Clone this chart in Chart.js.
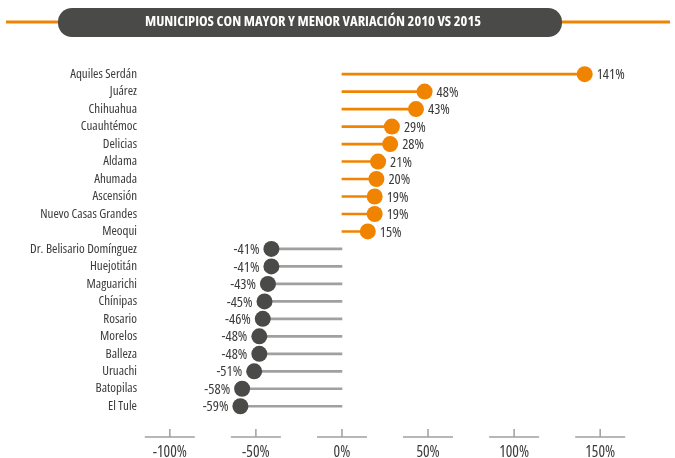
<!DOCTYPE html>
<html>
<head>
<meta charset="utf-8">
<script src="https://cdn.jsdelivr.net/npm/chart.js@4"></script>
<style>
  html, body { margin: 0; padding: 0; background: #fff; }
  #wrap { width: 675px; height: 458px; }
</style>
</head>
<body>
<div id="wrap"><canvas id="myChart" width="675" height="458"></canvas></div>
<script>
// datos
var municipios = ['Aquiles Serdán', 'Juárez', 'Chihuahua', 'Cuauhtémoc', 'Delicias', 'Aldama', 'Ahumada',
  'Ascensión', 'Nuevo Casas Grandes', 'Meoqui', 'Dr. Belisario Domínguez', 'Huejotitán', 'Maguarichi',
  'Chínipas', 'Rosario', 'Morelos', 'Balleza', 'Uruachi', 'Batopilas', 'El Tule'];
var variacion = [141, 48, 43, 29, 28, 21, 20, 19, 19, 15, -41, -41, -43, -45, -46, -48, -48, -51, -58, -59];
var ticksX = [-100, -50, 0, 50, 100, 150];
var titulo = 'MUNICIPIOS CON MAYOR Y MENOR VARIACIÓN 2010 VS 2015';

var naranja = '#F08400';
var gris = '#4A4A48';
var grisLinea = '#A0A0A0';
var texto = '#3a3a3a';
var fuente = "'Open Sans', sans-serif";

var colores = variacion.map(v => v >= 0 ? naranja : gris);
var coloresLinea = variacion.map(v => v >= 0 ? naranja : grisLinea);

// cabecera: linea naranja y caja redondeada detras del titulo
var cabecera = {
  id: 'cabecera',
  beforeDraw: function (chart) {
    var c = chart.ctx;
    c.save();
    c.strokeStyle = naranja;
    c.lineWidth = 3;
    c.beginPath();
    c.moveTo(6, 22);
    c.lineTo(670, 22);
    c.stroke();
    c.fillStyle = gris;
    c.beginPath();
    c.roundRect(58, 8, 504, 29, 14);
    c.fill();
    c.restore();
  }
};

// etiquetas de porcentaje junto a cada punto
var etiquetas = {
  id: 'etiquetas',
  afterDatasetsDraw: function (chart) {
    var c = chart.ctx;
    var meta = chart.getDatasetMeta(1);
    c.save();
    c.font = 'condensed 14.5px ' + fuente;
    c.fillStyle = texto;
    c.textBaseline = 'middle';
    meta.data.forEach(function (pt, i) {
      var v = variacion[i];
      if (v >= 0) {
        c.textAlign = 'left';
        c.fillText(v + '%', pt.x + 12, pt.y + 1);
      } else {
        c.textAlign = 'right';
        c.fillText(v + '%', pt.x - 12, pt.y + 1);
      }
    });
    c.restore();
  }
};

// marcas del eje inferior
var marcasEje = {
  id: 'marcasEje',
  afterDraw: function (chart) {
    var c = chart.ctx;
    var sx = chart.scales.x;
    var y = 437;
    c.save();
    c.strokeStyle = grisLinea;
    c.lineWidth = 1.5;
    sx.ticks.forEach(function (t) {
      var px = sx.getPixelForValue(t.value);
      c.beginPath();
      c.moveTo(px - 25, y);
      c.lineTo(px + 25, y);
      c.moveTo(px, y);
      c.lineTo(px, y - 8);
      c.stroke();
    });
    c.restore();
  }
};

var ctx = document.getElementById('myChart').getContext('2d');
var myChart = new Chart(ctx, {
  type: 'bar',
  data: {
    labels: municipios,
    datasets: [{
      data: variacion.map(v => [0, v]),
      backgroundColor: coloresLinea,
      barThickness: 2,
      order: 2
    }, {
      type: 'line',
      indexAxis: 'y',
      data: variacion,
      showLine: false,
      pointRadius: 8,
      pointHoverRadius: 8,
      pointBackgroundColor: colores,
      pointBorderWidth: 0,
      order: 1
    }]
  },
  options: {
    indexAxis: 'y',
    responsive: false,
    animation: false,
    layout: { padding: { left: 0, right: 49, top: 0, bottom: 0 } },
    plugins: {
      legend: { display: false },
      tooltip: { enabled: false },
      title: {
        display: true,
        text: titulo,
        color: '#fff',
        // 'condensed' va en weight porque Chart.js valida style
        font: { family: fuente, size: 14.5, weight: 'bold condensed', lineHeight: 1.2 },
        padding: { top: 13, bottom: 35 }
      }
    },
    scales: {
      x: {
        min: -115,
        max: 165,
        afterBuildTicks: function (s) { s.ticks = ticksX.map(v => ({ value: v })); },
        afterFit: function (s) { s.height = 43; },
        grid: { display: false },
        border: { display: false },
        ticks: {
          padding: 20,
          color: texto,
          font: { family: fuente, weight: 'condensed', size: 15.5 },
          callback: v => v + '%'
        }
      },
      y: {
        afterFit: function (s) { s.width = 144; },
        grid: { display: false, drawTicks: false },
        border: { display: false },
        ticks: {
          autoSkip: false,
          padding: 7,
          color: texto,
          font: { family: fuente, weight: 'condensed', size: 13 }
        }
      }
    }
  },
  plugins: [cabecera, etiquetas, marcasEje]
});
</script>
</body>
</html>
